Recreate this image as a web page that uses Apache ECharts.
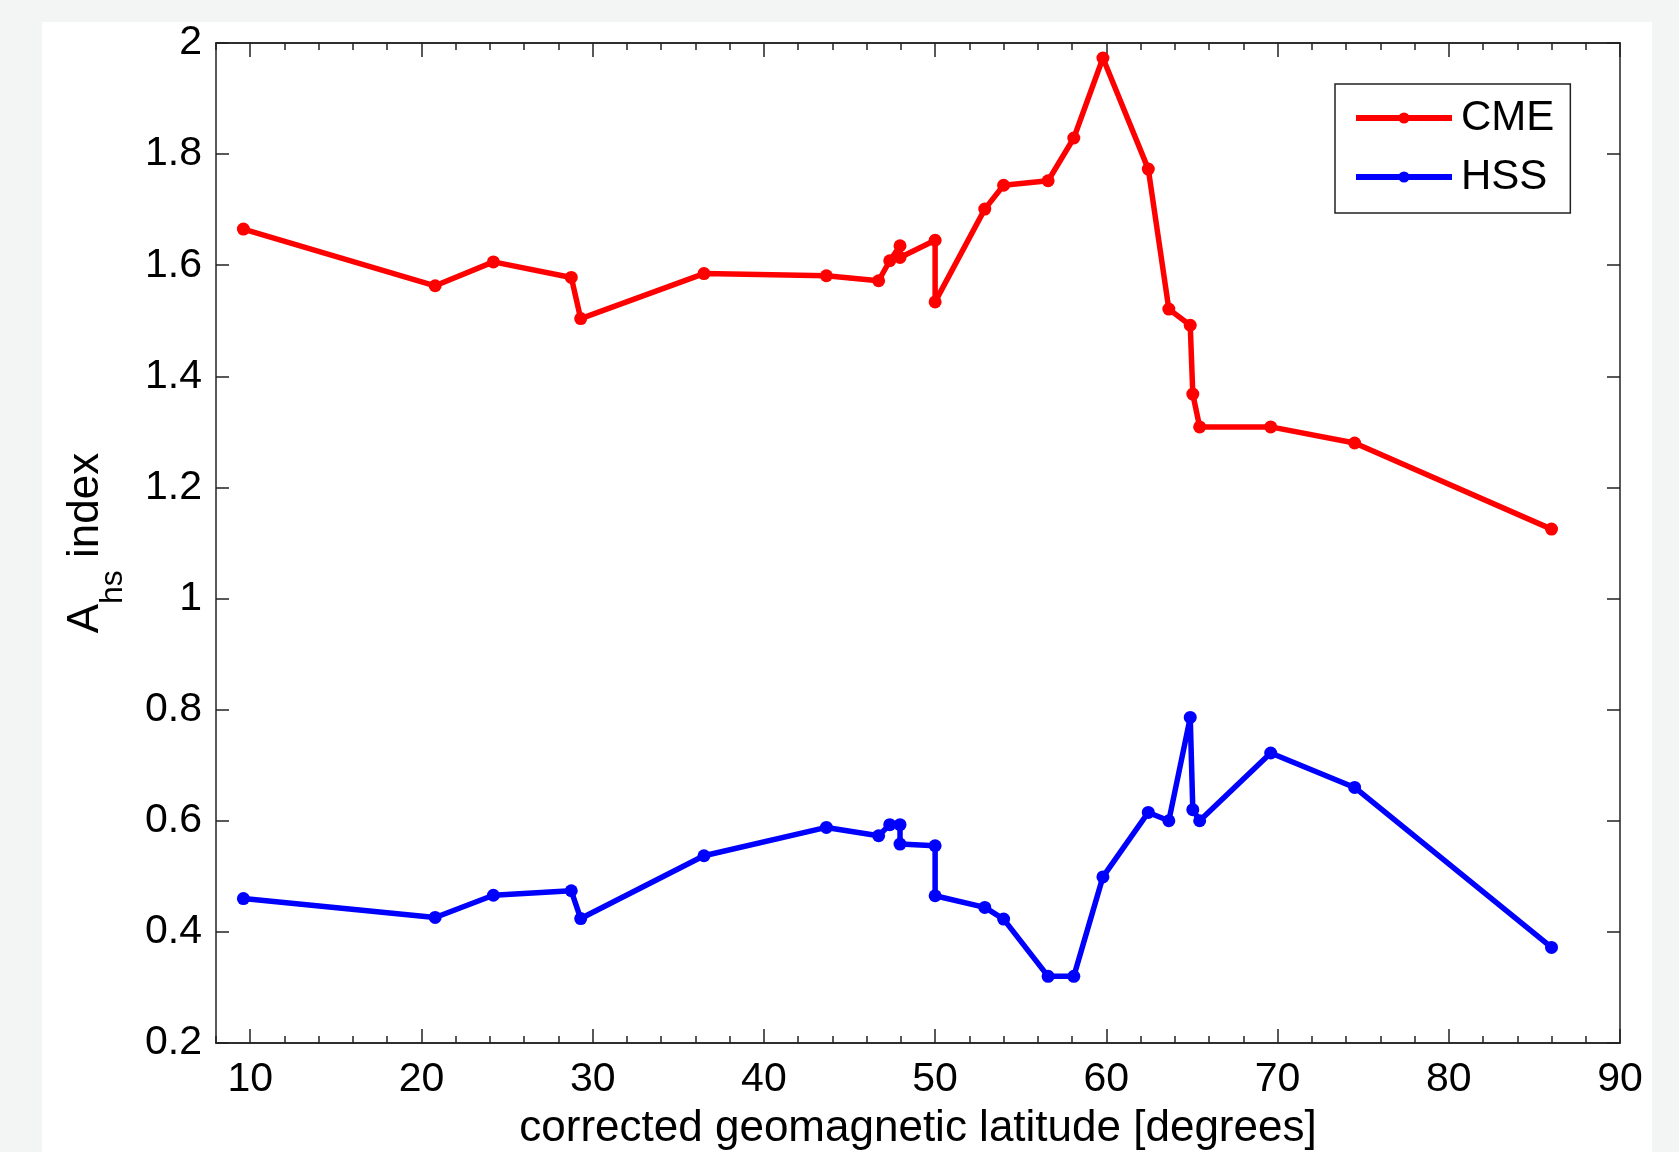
<!DOCTYPE html>
<html>
<head>
<meta charset="utf-8">
<script src="https://cdn.jsdelivr.net/npm/echarts@6/dist/echarts.min.js"></script>
<style>
  html, body { margin: 0; padding: 0; background: #f3f4f4; }
  #chart { width: 1679px; height: 1152px; }
</style>
</head>
<body>
<div id="chart"></div>
<script>
// Corrected geomagnetic latitude of each station [degrees]
const latitude = [9.6, 20.8, 24.2, 28.75, 29.3, 36.5, 43.65, 46.7, 47.35, 47.95, 47.95,
  50.0, 50.0, 52.9, 54.0, 56.6, 58.1, 59.8, 62.45, 63.65, 64.9, 65.05, 65.45, 69.6, 74.5, 86.0];
// A_hs index during CME-driven storms
const cmeValues = [1.665, 1.563, 1.606, 1.578, 1.504, 1.585, 1.581, 1.572, 1.608, 1.635, 1.614,
  1.645, 1.534, 1.701, 1.744, 1.752, 1.829, 1.973, 1.773, 1.521, 1.492, 1.368, 1.309, 1.309, 1.280, 1.125];
// A_hs index during HSS-driven storms
const hssValues = [0.460, 0.426, 0.466, 0.474, 0.424, 0.537, 0.588, 0.573, 0.593, 0.593, 0.558,
  0.555, 0.465, 0.444, 0.423, 0.320, 0.320, 0.499, 0.615, 0.600, 0.786, 0.620, 0.600, 0.722, 0.660, 0.372];

const xMajorTicks = [10, 20, 30, 40, 50, 60, 70, 80, 90];
const xMinorTicks = [8, 12, 14, 16, 18, 22, 24, 26, 28, 32, 34, 36, 38, 42, 44, 46, 48,
  52, 54, 56, 58, 62, 64, 66, 68, 72, 74, 76, 78, 82, 84, 86, 88];

const FONT = 'Arial, "Liberation Sans", sans-serif';
const AXIS_COLOR = '#222';

const pairs = (ys) => latitude.map((x, i) => [x, ys[i]]);

const baseX = (extra) => Object.assign({
  type: 'value', min: 8, max: 90, gridIndex: 0,
  splitLine: { show: false },
  axisLine: { show: true, onZero: false, lineStyle: { color: AXIS_COLOR, width: 1.5 } }
}, extra);

const baseY = (extra) => Object.assign({
  type: 'value', min: 0.2, max: 2, interval: 0.2, gridIndex: 0,
  splitLine: { show: false },
  axisLine: { show: true, onZero: false, lineStyle: { color: AXIS_COLOR, width: 1.5 } },
  axisTick: { show: true, inside: true, length: 13, lineStyle: { color: AXIS_COLOR, width: 1.5 } }
}, extra);

const chart = echarts.init(document.getElementById('chart'), null, { renderer: 'canvas' });

chart.setOption({
  animation: false,
  backgroundColor: '#f3f4f4',
  textStyle: { fontFamily: FONT },
  graphic: [{
    type: 'rect', z: -10, silent: true,
    shape: { x: 42, y: 22, width: 1610, height: 1130 },
    style: { fill: '#ffffff' }
  }],
  grid: { left: 216, top: 43, right: 59, bottom: 109, containLabel: false, outerBoundsMode: 'none' },
  xAxis: [
    baseX({
      position: 'bottom',
      name: 'corrected geomagnetic latitude [degrees]',
      nameLocation: 'middle', nameGap: 64,
      nameTextStyle: { fontSize: 44, color: '#000', fontFamily: FONT },
      axisTick: { show: true, inside: true, length: 14, customValues: xMajorTicks,
        lineStyle: { color: AXIS_COLOR, width: 1.5 } },
      axisLabel: { show: true, customValues: xMajorTicks, margin: 16,
        fontSize: 41, color: '#000', fontFamily: FONT }
    }),
    baseX({
      position: 'bottom',
      axisTick: { show: true, inside: true, length: 7, customValues: xMinorTicks,
        lineStyle: { color: AXIS_COLOR, width: 1.5 } },
      axisLabel: { show: false }
    }),
    baseX({
      position: 'top',
      axisTick: { show: true, inside: true, length: 14, customValues: xMajorTicks,
        lineStyle: { color: AXIS_COLOR, width: 1.5 } },
      axisLabel: { show: false }
    }),
    baseX({
      position: 'top',
      axisTick: { show: true, inside: true, length: 7, customValues: xMinorTicks,
        lineStyle: { color: AXIS_COLOR, width: 1.5 } },
      axisLabel: { show: false }
    })
  ],
  yAxis: [
    baseY({
      position: 'left',
      name: '{m|A}{s|hs}{m| index}',
      nameLocation: 'middle', nameRotate: 90, nameGap: 104,
      nameTextStyle: {
        color: '#000', fontFamily: FONT,
        rich: {
          m: { fontSize: 44, lineHeight: 48, verticalAlign: 'top', color: '#000', fontFamily: FONT },
          s: { fontSize: 32, lineHeight: 32, verticalAlign: 'top', padding: [33, 0, 0, 0], color: '#000', fontFamily: FONT }
        }
      },
      axisLabel: { show: true, margin: 14, fontSize: 41, color: '#000', fontFamily: FONT,
        formatter: (v) => String(parseFloat(v.toFixed(1))) }
    }),
    baseY({ position: 'right', axisLabel: { show: false } })
  ],
  legend: {
    orient: 'vertical',
    left: 1335, top: 84,
    padding: [13, 16, 15, 18],
    itemWidth: 96, itemHeight: 14, itemGap: 17,
    backgroundColor: '#ffffff',
    borderColor: AXIS_COLOR, borderWidth: 1.5, borderRadius: 0,
    lineStyle: { width: 6 },
    textStyle: { fontSize: 42, color: '#000', fontFamily: FONT, padding: [0, 0, 0, 4] },
    data: ['CME', 'HSS']
  },
  series: [
    {
      name: 'CME', type: 'line', xAxisIndex: 0, yAxisIndex: 0,
      data: pairs(cmeValues),
      symbol: 'circle', symbolSize: 13, showAllSymbol: true,
      color: '#ff0000',
      lineStyle: { color: '#ff0000', width: 5.5 },
      itemStyle: { color: '#ff0000' }
    },
    {
      name: 'HSS', type: 'line', xAxisIndex: 0, yAxisIndex: 0,
      data: pairs(hssValues),
      symbol: 'circle', symbolSize: 13, showAllSymbol: true,
      color: '#0000ff',
      lineStyle: { color: '#0000ff', width: 5.5 },
      itemStyle: { color: '#0000ff' }
    }
  ]
});
</script>
</body>
</html>
